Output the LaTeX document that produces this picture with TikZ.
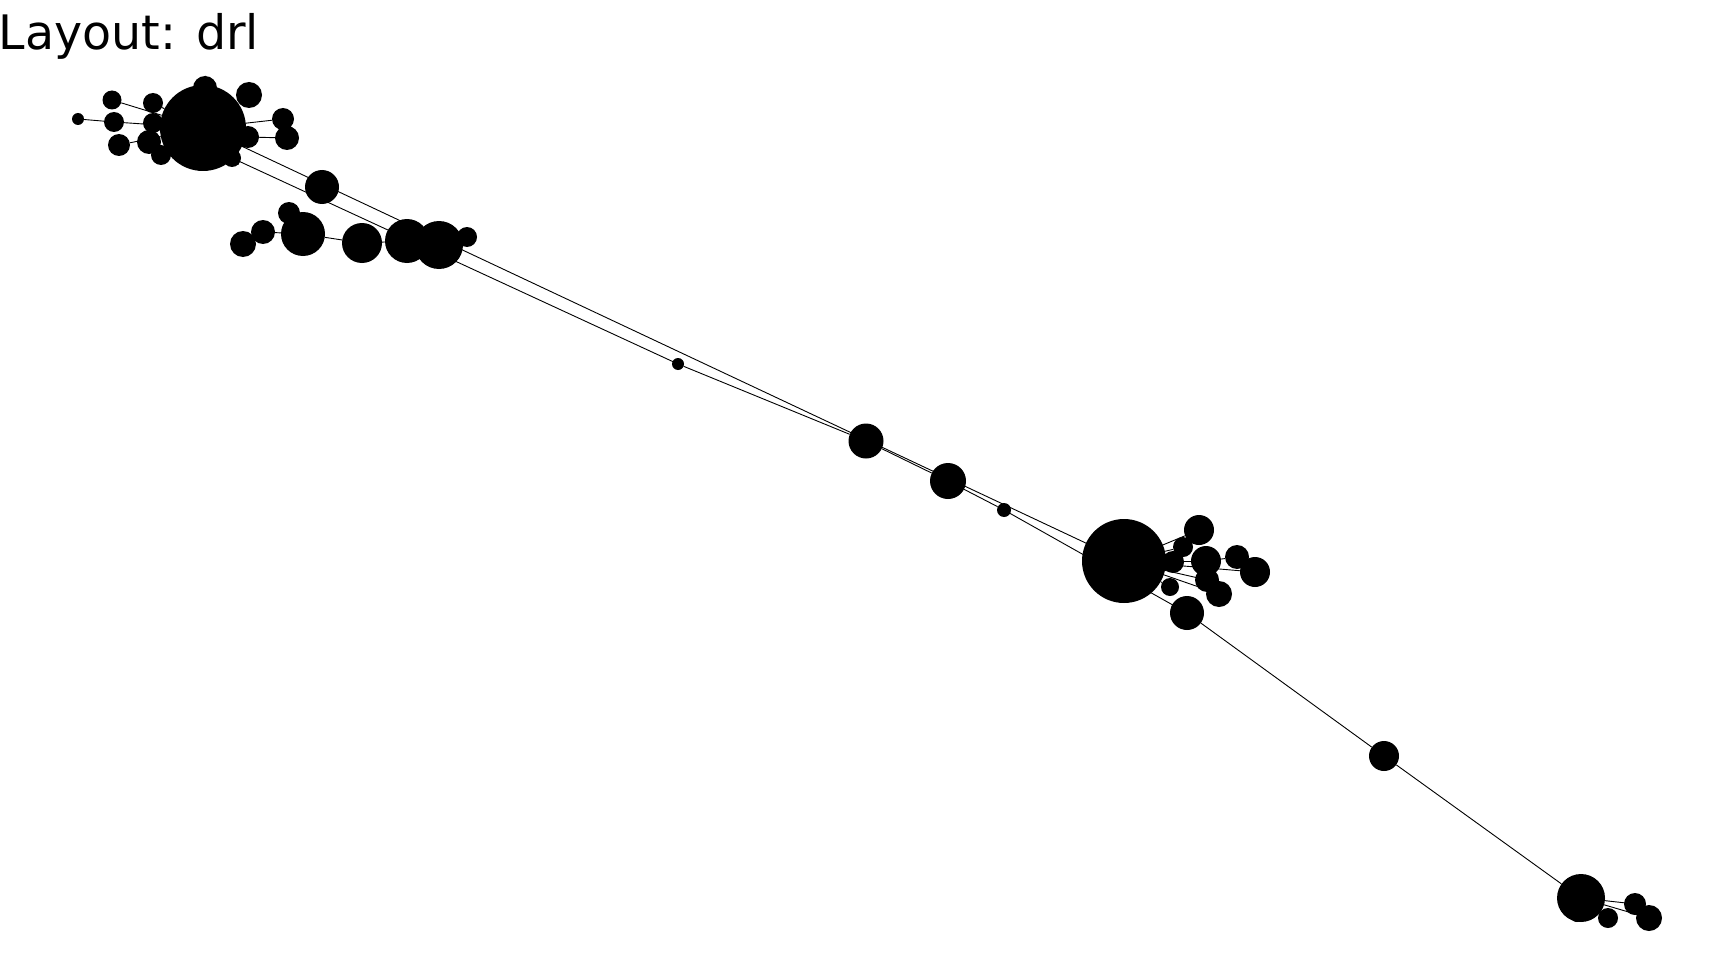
\documentclass[tikz,border=0pt]{standalone}
\usepackage{fontspec}
\setmainfont{DejaVu Sans}
\begin{document}
\begin{tikzpicture}[x=1pt,y=-1pt,
  vtx/.style={circle, fill=black, draw=none, inner sep=0pt, minimum size=#1},
  edge/.style={draw=black, line width=0.9pt}]
\useasboundingbox (0,0) rectangle (1728,960);
\node[anchor=base west, inner sep=0pt, font=\fontsize{47.5}{57}\selectfont] (title) at (-1.5,50) {Layout: drl};
% top-left cluster
\node[vtx=86] (A) at (203,128) {};
\node[vtx=24] (a1) at (205,88) {};
\node[vtx=26] (a2) at (249,95) {};
\node[vtx=19] (a3) at (112,100) {};
\node[vtx=20] (a4) at (153,103) {};
\node[vtx=12] (a5) at (78,119) {};
\node[vtx=20] (a6) at (114,122) {};
\node[vtx=20] (a7) at (153,123) {};
\node[vtx=22] (a8) at (283,119) {};
\node[vtx=24] (a9) at (287,138) {};
\node[vtx=22] (a10) at (248,137) {};
\node[vtx=22] (a11) at (119,145) {};
\node[vtx=24] (a12) at (149,142) {};
\node[vtx=20] (a13) at (161,155) {};
\node[vtx=18] (L) at (232,158) {};
% second cluster
\node[vtx=34] (P1) at (322,187) {};
\node[vtx=22] (b1) at (289,213) {};
\node[vtx=44] (b2) at (303,234) {};
\node[vtx=24] (b3) at (263,232) {};
\node[vtx=26] (b4) at (243,244) {};
\node[vtx=40] (b5) at (362,243) {};
\node[vtx=44] (P2) at (407,241) {};
\node[vtx=48] (P3) at (439,245) {};
\node[vtx=20] (b6) at (467,237) {};
% chain
\node[vtx=12] (S) at (678,364) {};
\node[vtx=35] (Q) at (866,441) {};
\node[vtx=36] (R) at (948,481) {};
\node[vtx=14] (T) at (1004,510) {};
% B cluster
\node[vtx=84] (B) at (1124,561) {};
\node[vtx=30] (n1) at (1199,530) {};
\node[vtx=20] (n2) at (1183,547) {};
\node[vtx=30] (n3) at (1206,561) {};
\node[vtx=24] (n4) at (1237,557) {};
\node[vtx=30] (n5) at (1255,572) {};
\node[vtx=22] (n6) at (1173,562) {};
\node[vtx=24] (n7) at (1207,580) {};
\node[vtx=26] (n8) at (1219,594) {};
\node[vtx=18] (n9) at (1170,587) {};
\node[vtx=34] (X) at (1187,613) {};
\node[vtx=30] (Y) at (1384,756) {};
% bottom cluster
\node[vtx=48] (Z) at (1581,898) {};
\node[vtx=14] (z1) at (1577,915) {};
\node[vtx=20] (z2) at (1608,918) {};
\node[vtx=22] (z3) at (1635,904) {};
\node[vtx=26] (z4) at (1649,918) {};
% edges
\draw[edge] (a3) -- (A);
\draw[edge] (a5) -- (a6);
\draw[edge] (a6) -- (A);
\draw[edge] (a11) -- (A);
\draw[edge] (a8) -- (A);
\draw[edge] (a10) -- (a9);
\draw[edge] (a4) -- (A);
\draw[edge] (a7) -- (A);
\draw[edge] (a12) -- (A);
\draw[edge] (a13) -- (A);
\draw[edge] (a1) -- (A);
\draw[edge] (a2) -- (A);
\draw[edge] (L) -- (A);
\draw[edge] (b4) -- (b3);
\draw[edge] (b3) -- (b2);
\draw[edge] (b1) -- (b2);
\draw[edge] (b2) -- (b5);
\draw[edge] (b5) -- (P2);
\draw[edge] (P3) -- (b6);
\draw[edge] (A.center) -- (B.center);
\draw[edge] (L.center) -- (S.center);
\draw[edge] (S) -- (Q);
\draw[edge] (Q) -- (R);
\draw[edge] (R) -- (T);
\draw[edge] (T.center) -- (X.center);
\draw[edge] (X) -- (Y);
\draw[edge] (Y) -- (Z);
\draw[edge] (B) -- (n1);
\draw[edge] (B) -- (n2);
\draw[edge] (B.center) -- (n3.center);
\draw[edge] (n3) -- (n4);
\draw[edge] (B.center) -- (n5.center);
\draw[edge] (B) -- (n6);
\draw[edge] (B.center) -- (n7.center);
\draw[edge] (B.center) -- (n8.center);
\draw[edge] (B) -- (n9);
\draw[edge] (Z) -- (z1);
\draw[edge] (Z) -- (z2);
\draw[edge] (Z.center) -- (z3.center);
\draw[edge] (Z.center) -- (z4.center);
\end{tikzpicture}
\end{document}
